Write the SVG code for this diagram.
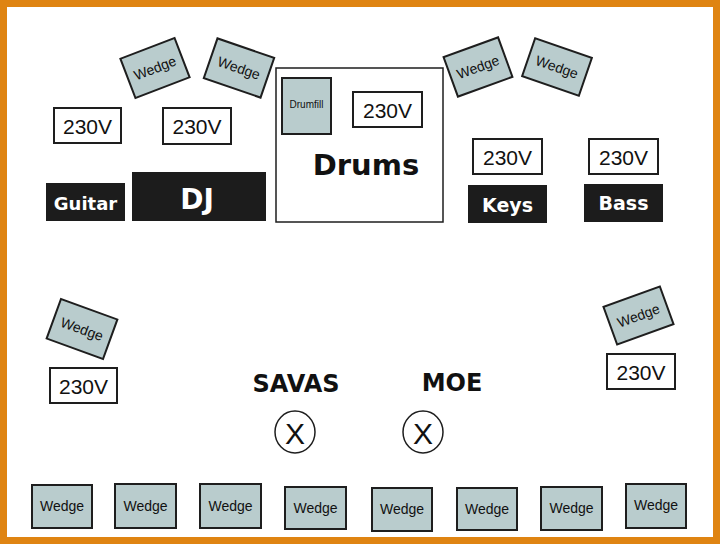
<svg xmlns="http://www.w3.org/2000/svg" width="720" height="544" viewBox="0 0 720 544">
<style>
.wedge rect{fill:#b9cccd;stroke:#1e1e1e;stroke-width:2}
.wedge text{font-family:"Liberation Sans",Arial,sans-serif;font-size:14px;fill:#111;text-anchor:middle;dominant-baseline:central}
.pwr rect{fill:#fff;stroke:#1e1e1e;stroke-width:2}
.pwr text{font-family:"Liberation Sans",Arial,sans-serif;font-size:21px;fill:#111;text-anchor:middle;dominant-baseline:central}
.blk rect{fill:#1c1c1c}
.blk text{font-family:"DejaVu Sans",Verdana,sans-serif;font-weight:bold;fill:#fff;text-anchor:middle;dominant-baseline:central}
.lbl{font-family:"DejaVu Sans",Verdana,sans-serif;font-weight:bold;fill:#111;text-anchor:middle}
.mic ellipse{fill:#fff;stroke:#1e1e1e;stroke-width:1.5}
.mic text{font-family:"Liberation Sans",Arial,sans-serif;font-size:30px;fill:#111;text-anchor:middle;dominant-baseline:central}
</style>
<rect x="0" y="0" width="720" height="544" fill="#df8412"/>
<rect x="7" y="7" width="706" height="530" fill="#fff"/>

<!-- top wedges -->
<g id="wedge-t1" class="wedge" transform="translate(155,68) rotate(-21)"><rect x="-29" y="-21" width="58" height="42"/><text x="0" y="0">Wedge</text></g>
<g id="wedge-t2" class="wedge" transform="translate(239,68) rotate(19)"><rect x="-30" y="-21" width="60" height="42"/><text x="0" y="0">Wedge</text></g>
<g id="wedge-t3" class="wedge" transform="translate(478,67) rotate(-20)"><rect x="-29" y="-21" width="58" height="42"/><text x="0" y="0">Wedge</text></g>
<g id="wedge-t4" class="wedge" transform="translate(557,67) rotate(19)"><rect x="-30" y="-20" width="60" height="40"/><text x="0" y="0">Wedge</text></g>

<!-- power -->
<g id="pwr-guitar" class="pwr"><rect x="54" y="108" width="67" height="35"/><text x="87.5" y="126">230V</text></g>
<g id="pwr-dj" class="pwr"><rect x="163" y="108" width="68" height="36"/><text x="197" y="126">230V</text></g>
<g id="pwr-keys" class="pwr"><rect x="473" y="139" width="69" height="35"/><text x="507.5" y="157">230V</text></g>
<g id="pwr-bass" class="pwr"><rect x="589" y="139" width="69" height="35"/><text x="623.5" y="157">230V</text></g>
<g id="pwr-left" class="pwr"><rect x="50" y="368" width="67" height="35"/><text x="83.5" y="386">230V</text></g>
<g id="pwr-right" class="pwr"><rect x="607" y="354" width="68" height="35"/><text x="641" y="372">230V</text></g>

<!-- instruments -->
<g id="guitar" class="blk"><rect x="46" y="183" width="79" height="38"/><text x="85.5" y="203" font-size="18">Guitar</text></g>
<g id="dj" class="blk"><rect x="132" y="172" width="134" height="49"/><text x="197" y="199" font-size="28">DJ</text></g>
<g id="keys" class="blk"><rect x="468" y="185" width="79" height="38"/><text x="507.5" y="205" font-size="19">Keys</text></g>
<g id="bass" class="blk"><rect x="584" y="184" width="79" height="38"/><text x="623.5" y="203" font-size="19">Bass</text></g>

<g id="drums">
<rect x="276" y="68" width="167" height="154" fill="#fff" stroke="#1e1e1e" stroke-width="1.5"/>
<text class="lbl" x="366" y="175" font-size="29">Drums</text>
</g>
<g id="drumfill" class="wedge"><rect x="282" y="78" width="49" height="56"/><text x="306.5" y="104" style="font-size:10px">Drumfill</text></g>
<g id="pwr-drums" class="pwr"><rect x="353" y="92" width="69" height="35"/><text x="387.5" y="110">230V</text></g>

<!-- side wedges -->
<g id="wedge-l" class="wedge" transform="translate(82,329) rotate(20)"><rect x="-30" y="-21" width="60" height="42"/><text x="0" y="0">Wedge</text></g>
<g id="wedge-r" class="wedge" transform="translate(638.5,315.5) rotate(-20)"><rect x="-30" y="-20" width="60" height="40"/><text x="0" y="0">Wedge</text></g>

<!-- singers -->
<text id="savas" class="lbl" x="296" y="392" font-size="24">SAVAS</text>
<text id="moe" class="lbl" x="452" y="391" font-size="24">MOE</text>
<g id="mic-savas" class="mic"><ellipse cx="295" cy="432" rx="20" ry="21"/><text x="295" y="433">X</text></g>
<g id="mic-moe" class="mic"><ellipse cx="423" cy="432" rx="20" ry="21"/><text x="423" y="433">X</text></g>

<!-- bottom wedges -->
<g id="wedge-b1" class="wedge"><rect x="32" y="485" width="60" height="43"/><text x="62" y="506">Wedge</text></g>
<g id="wedge-b2" class="wedge"><rect x="115" y="484" width="61" height="44"/><text x="145.5" y="506">Wedge</text></g>
<g id="wedge-b3" class="wedge"><rect x="200" y="484" width="61" height="44"/><text x="230.5" y="506">Wedge</text></g>
<g id="wedge-b4" class="wedge"><rect x="285" y="487" width="61" height="42"/><text x="315.5" y="508">Wedge</text></g>
<g id="wedge-b5" class="wedge"><rect x="372" y="488" width="60" height="43"/><text x="402" y="509">Wedge</text></g>
<g id="wedge-b6" class="wedge"><rect x="457" y="488" width="60" height="42"/><text x="487" y="509">Wedge</text></g>
<g id="wedge-b7" class="wedge"><rect x="541" y="487" width="61" height="43"/><text x="571.5" y="508">Wedge</text></g>
<g id="wedge-b8" class="wedge"><rect x="626" y="484" width="60" height="44"/><text x="656" y="505">Wedge</text></g>

<g id="connectors"></g>
</svg>
